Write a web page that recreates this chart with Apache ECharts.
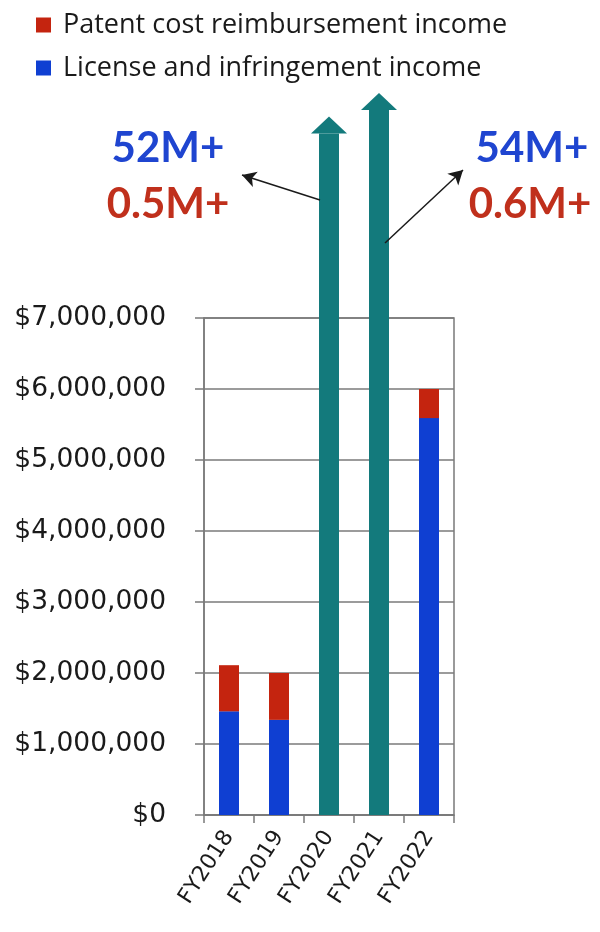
<!DOCTYPE html>
<html><head><meta charset="utf-8">
<script src="https://cdn.jsdelivr.net/npm/echarts@6/dist/echarts.min.js"></script>
<style>html,body{margin:0;padding:0;background:#fff}#c{width:600px;height:932px}</style>
</head><body><div id="c"></div>
<script>
// ---- data ----
const categories = ['FY2018', 'FY2019', 'FY2020', 'FY2021', 'FY2022'];
const licenseIncome = [1460000, 1340000, null, null, 5590000];
const patentCostIncome = [650000, 660000, null, null, 410000];
const offScaleArrow = [null, null, 9600000, 9930000, null];
const yMin = 0, yMax = 7000000, yInterval = 1000000;
const legendNames = ['Patent cost reimbursement income', 'License and infringement income'];
const calloutLicense = ['52M+', '54M+'];
const calloutPatent = ['0.5M+', '0.6M+'];

const BLUE = '#0f3fd2', RED = '#c4240f', TEAL = '#137a7c';
const GRID = '#7a7a7a';

const chart = echarts.init(document.getElementById('c'), null, {renderer: 'canvas'});
const calloutFont = {fontFamily: 'Lato', fontWeight: 'bold', fontSize: 42};

chart.setOption({
  animation: false,
  backgroundColor: '#fff',
  legend: {
    orient: 'vertical', left: 36, top: 10, padding: 0, itemWidth: 15, itemHeight: 15, itemGap: 13,
    icon: 'rect', selectedMode: false,
    data: legendNames,
    textStyle: {fontFamily: 'Open Sans', fontSize: 27, color: '#1a1a1a', lineHeight: 30, padding: [0, 0, 0, 7]}
  },
  grid: {left: 204, right: 146, top: 318, bottom: 117, show: true, borderColor: GRID, borderWidth: 1.5, backgroundColor: 'transparent'},
  xAxis: {
    type: 'category', data: categories,
    axisLine: {lineStyle: {color: GRID, width: 1.5}},
    axisTick: {show: true, length: 8, lineStyle: {color: GRID, width: 1.5}},
    axisLabel: {rotate: 57, margin: 18, fontFamily: 'DejaVu Sans', fontSize: 22, color: '#1a1a1a'}
  },
  yAxis: {
    type: 'value', min: yMin, max: yMax, interval: yInterval,
    axisLine: {show: true, lineStyle: {color: GRID, width: 1.5}},
    axisTick: {show: true, length: 9, lineStyle: {color: GRID, width: 1.5}},
    splitLine: {show: true, lineStyle: {color: GRID, width: 1.5}},
    axisLabel: {margin: 38, fontFamily: 'DejaVu Sans', fontSize: 26.5, color: '#1a1a1a',
      formatter: v => '$' + v.toLocaleString('en-US')}
  },
  series: [
    {name: legendNames[1], type: 'bar', stack: 'total', barWidth: 20, data: licenseIncome,
      itemStyle: {color: BLUE}},
    {name: legendNames[0], type: 'bar', stack: 'total', barWidth: 20, data: patentCostIncome,
      itemStyle: {color: RED}},
    {name: 'offscale', type: 'bar', stack: 'total', barWidth: 19, data: offScaleArrow, clip: false,
      itemStyle: {color: TEAL}, z: 3,
      markLine: {
        silent: true, symbol: ['none', 'arrow'], symbolSize: [12, 14],
        lineStyle: {color: '#1a1a1a', width: 1.5, type: 'solid'}, label: {show: false},
        data: [
          [{x: 320, y: 200}, {x: 242, y: 175}],
          [{x: 385, y: 243}, {x: 463, y: 170}]
        ]
      }
    },
    {name: 'arrowhead', type: 'scatter', data: offScaleArrow.map((v, i) => [i, v]), clip: false,
      symbol: 'triangle', symbolSize: [36, 17], symbolOffset: [0, -8.5],
      itemStyle: {color: TEAL, opacity: 1}, z: 4, silent: true}
  ],
  graphic: [
    {type: 'text', x: 168, y: 148, style: Object.assign({text: calloutLicense[0], fill: '#1f45d0', align: 'center', verticalAlign: 'middle'}, calloutFont)},
    {type: 'text', x: 168, y: 204, style: Object.assign({text: calloutPatent[0], fill: '#c0301c', align: 'center', verticalAlign: 'middle'}, calloutFont)},
    {type: 'text', x: 532, y: 148, style: Object.assign({text: calloutLicense[1], fill: '#1f45d0', align: 'center', verticalAlign: 'middle'}, calloutFont)},
    {type: 'text', x: 530, y: 204, style: Object.assign({text: calloutPatent[1], fill: '#c0301c', align: 'center', verticalAlign: 'middle'}, calloutFont)}
  ]
});
</script></body></html>
